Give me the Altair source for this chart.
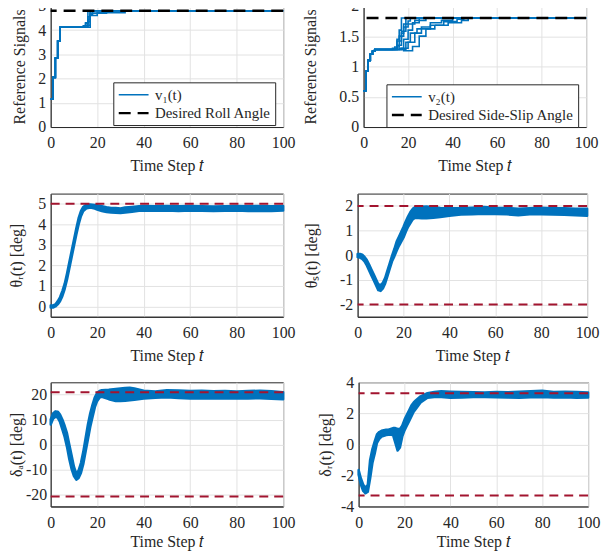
import altair as alt
import pandas as pd

BLUE = "#0072BD"
RED = "#A2142F"
INK = "#262626"
FONT = "Liberation Serif"
XTICKS = [0, 20, 40, 60, 80, 100]
XTITLE = "Time Step 𝑡"

# ---------------- Panel 1: v1(t) runs (step signals) ----------------
P1_LABEL = "v₁(t)"
P1_DES_LABEL = "Desired Roll Angle"
P1_DESIRED = 4.8
P1_RUN_T = [
    [0, 1, 2, 3, 4, 14, 15, 16, 100],
    [0, 1, 2, 3, 4, 15, 16, 17, 100],
    [0, 1, 2, 3, 4, 14, 15, 16, 17, 18, 100],
    [0, 1, 2, 3, 4, 16, 17, 20, 32, 100],
    [0, 1, 2, 3, 4, 16, 17, 24, 26, 100],
    [0, 1, 2, 3, 4, 13, 14, 15, 16, 17, 100],
]
P1_RUN_V = [
    [1.15, 2.05, 2.85, 3.55, 4.12, 4.12, 4.2, 4.8, 4.8],
    [1.15, 2.05, 2.85, 3.55, 4.12, 4.12, 4.35, 4.8, 4.8],
    [1.15, 2.05, 2.85, 3.55, 4.12, 4.12, 4.3, 4.55, 4.65, 4.8, 4.8],
    [1.15, 2.05, 2.85, 3.55, 4.12, 4.12, 4.6, 4.72, 4.8, 4.8],
    [1.15, 2.05, 2.85, 3.55, 4.12, 4.2, 4.7, 4.76, 4.8, 4.8],
    [1.15, 2.05, 2.85, 3.55, 4.12, 4.12, 4.18, 4.28, 4.45, 4.8, 4.8],
]

# ---------------- Panel 2: v2(t) runs ----------------
P2_LABEL = "v₂(t)"
P2_DES_LABEL = "Desired Side-Slip Angle"
P2_DESIRED = 1.8
P2_RUN_T = [
    [0, 1, 2, 3, 4, 5, 14, 15, 16, 17, 100],
    [0, 1, 2, 3, 4, 5, 15, 17, 18, 19, 100],
    [0, 1, 2, 3, 4, 5, 16, 18, 20, 22, 25, 100],
    [0, 1, 2, 3, 4, 5, 17, 20, 23, 26, 30, 35, 40, 100],
    [0, 1, 2, 3, 4, 5, 18, 22, 25, 28, 32, 38, 44, 47, 100],
    [0, 1, 2, 3, 4, 5, 14, 16, 18, 20, 21, 100],
    [0, 1, 2, 3, 4, 5, 19, 21, 24, 30, 36, 42, 45, 100],
    [0, 1, 2, 3, 4, 5, 13, 15, 17, 19, 23, 28, 100],
]
P2_RUN_V = [
    [0.6, 0.93, 1.1, 1.2, 1.25, 1.28, 1.28, 1.45, 1.6, 1.8, 1.8],
    [0.6, 0.93, 1.1, 1.2, 1.25, 1.28, 1.35, 1.55, 1.7, 1.8, 1.8],
    [0.6, 0.93, 1.1, 1.2, 1.25, 1.28, 1.3, 1.45, 1.6, 1.72, 1.8, 1.8],
    [0.6, 0.93, 1.1, 1.2, 1.25, 1.28, 1.3, 1.4, 1.55, 1.65, 1.72, 1.76, 1.8, 1.8],
    [0.6, 0.93, 1.1, 1.2, 1.25, 1.28, 1.26, 1.33, 1.5, 1.62, 1.68, 1.72, 1.76, 1.8, 1.8],
    [0.6, 0.93, 1.1, 1.2, 1.25, 1.28, 1.32, 1.5, 1.65, 1.75, 1.8, 1.8],
    [0.6, 0.93, 1.1, 1.2, 1.25, 1.28, 1.4, 1.55, 1.62, 1.68, 1.74, 1.78, 1.8, 1.8],
    [0.6, 0.93, 1.1, 1.2, 1.25, 1.28, 1.3, 1.42, 1.58, 1.7, 1.76, 1.8, 1.8],
]

# ---------------- Panel 3: theta_r(t) envelope ----------------
P3_T = [0, 1, 2, 3, 4, 5, 6, 7, 8, 9, 10, 11, 12, 13, 14, 15, 16, 17, 18, 19, 20,
        22, 24, 26, 28, 30, 32, 35, 38, 40,
        45, 50, 55, 60, 65, 70, 75, 80, 85, 90, 95, 100]
P3_LO = [-0.05, -0.05, 0.0, 0.1, 0.25, 0.5, 0.85, 1.3, 1.85, 2.4, 2.95, 3.5, 4.0, 4.4, 4.65, 4.75, 4.8, 4.82, 4.8, 4.77, 4.72,
         4.65, 4.6, 4.58, 4.57, 4.55, 4.58, 4.62, 4.66, 4.68,
         4.66, 4.67, 4.65, 4.67, 4.66, 4.65, 4.66, 4.67, 4.65, 4.66, 4.65, 4.67]
P3_HI = [0.05, 0.05, 0.1, 0.25, 0.45, 0.75, 1.1, 1.6, 2.15, 2.7, 3.25, 3.8, 4.3, 4.65, 4.85, 4.93, 4.96, 4.97, 4.96, 4.95, 4.93,
         4.88, 4.83, 4.8, 4.8, 4.78, 4.82, 4.85, 4.88, 4.9,
         4.88, 4.9, 4.88, 4.9, 4.88, 4.87, 4.88, 4.9, 4.88, 4.9, 4.88, 4.9]
P3_LIMITS = [5.0]

# ---------------- Panel 4: theta_s(t) envelope ----------------
P4_T = [0, 1, 2, 3, 4, 5, 6, 7, 8, 9, 10, 11, 12, 13, 14, 15, 16, 17, 18, 19, 20, 21, 22, 23, 24, 25,
        28, 30, 33, 36, 40, 45, 50, 55, 60, 65, 70, 75, 80, 85, 90, 95, 100]
P4_LO = [-0.08, -0.1, -0.15, -0.25, -0.42, -0.62, -0.82, -1.02, -1.22, -1.42, -1.45, -1.35, -1.15, -0.85, -0.55, -0.25,
         -0.05, 0.18, 0.38, 0.55, 0.72, 0.95, 1.15, 1.3, 1.45, 1.52,
         1.5, 1.5, 1.52, 1.55, 1.6, 1.65, 1.66, 1.68, 1.67, 1.66, 1.62, 1.66, 1.66, 1.65, 1.64, 1.62, 1.6]
P4_HI = [0.05, 0.05, 0.02, -0.07, -0.2, -0.38, -0.58, -0.78, -0.98, -1.18, -1.22, -1.12, -0.92, -0.62, -0.32, -0.02,
         0.25, 0.55, 0.75, 0.95, 1.15, 1.38, 1.58, 1.75, 1.88, 1.95,
         1.97, 1.98, 1.95, 1.92, 1.9, 1.9, 1.93, 1.96, 1.93, 1.92, 1.88, 1.9, 1.93, 1.9, 1.9, 1.88, 1.88]
P4_LIMITS = [2.0, -2.0]

# ---------------- Panel 5: delta_a(t) envelope ----------------
P5_T = [0, 1, 2, 3, 4, 5, 6, 7, 8, 9, 10, 11, 12, 13, 14, 15, 16, 17, 18, 19, 20, 21, 22,
        25, 28, 30, 32, 34, 36, 40, 45, 50, 55, 60, 65, 70, 75, 80, 85, 90, 95, 100]
P5_LO = [8, 10.3, 11.1, 10.8, 9, 6, 3, -1, -6, -10, -12.8, -14.2, -13.5, -11.5, -8, -3, 2, 7, 11, 15, 17.5, 18.8, 19.2,
         18.2, 17.5, 17.5, 17.6, 17.8, 18, 18.5, 18.8, 19, 18.7, 18.5, 18.6, 18.5, 18.6, 18.5, 18.5, 18.6, 18.4, 18.2]
P5_HI = [10, 12.5, 13.3, 13.2, 12, 10, 7.5, 4.5, 0, -4.5, -9, -11.8, -10.5, -7.5, -3, 2.5, 8, 12.5, 16, 19, 20.8, 21.5, 21.8,
         22, 22.3, 22.5, 22.7, 22.8, 22.5, 21.6, 21.3, 21.8, 21.7, 21.5, 21.6, 21.4, 21.5, 21.3, 21.5, 21.6, 21.4, 21.0]
P5_LIMITS = [21.0, -21.0]

# ---------------- Panel 6: delta_r(t) envelope ----------------
P6_T = [0, 1, 2, 3, 4, 5, 6, 7, 8, 9, 10, 11, 12, 13, 14, 15, 16, 17, 18, 19, 20, 21, 22, 23, 24, 25,
        27, 30, 33, 36, 40, 45, 50, 55, 60, 65, 70, 75, 80, 85, 90, 95, 100]
P6_LO = [-1.95, -2.6, -3.0, -3.15, -3.05, -2.2, -1.2, -0.6, 0.1, 0.35, 0.5, 0.55, 0.6, 0.62, 0.62, 0.6, 0.1, -0.4, -0.2,
         0.5, 0.9, 1.2, 1.5, 1.8, 2.1, 2.3,
         2.7, 3.0, 3.05, 3.05, 3.0, 3.02, 3.05, 3.05, 3.04, 3.02, 3.0, 3.03, 3.05, 3.02, 3.03, 3.0, 3.02]
P6_HI = [-1.65, -2.2, -2.6, -2.8, -2.6, -1.0, -0.3, 0.2, 0.65, 0.8, 0.88, 0.92, 0.95, 0.95, 1.0, 1.05, 1.05, 1.0, 1.0,
         1.2, 1.6, 1.9, 2.2, 2.5, 2.7, 2.85,
         3.1, 3.3, 3.38, 3.42, 3.4, 3.38, 3.36, 3.35, 3.38, 3.36, 3.4, 3.42, 3.45, 3.38, 3.4, 3.38, 3.35]
P6_LIMITS = [3.3, -3.3]

AXIS_COMMON = dict(labelFont=FONT, labelFontSize=16, labelColor=INK, titleFont=FONT, titleFontSize=16,
                   titleFontWeight="normal", titleColor=INK, labelFlush=False, labelOverlap=False,
                   labelBound=False, labelExpr="'' + datum.value", grid=True, gridColor="#e2e2e2",
                   ticks=False, domain=True, domainColor=INK, domainWidth=1)


def x_enc(tpad=7):
    return alt.X("t:Q", scale=alt.Scale(domain=[0, 100], nice=False, zero=False),
                 axis=alt.Axis(values=XTICKS, title=XTITLE, labelPadding=8, titlePadding=tpad, **AXIS_COMMON))


def y_enc(field, ydom, ticks, title, lpad, tpad):
    return alt.Y(field, scale=alt.Scale(domain=ydom, nice=False, zero=False),
                 axis=alt.Axis(values=ticks, title=title, labelPadding=lpad, titlePadding=tpad, **AXIS_COMMON))


def ref_panel(run_t, run_v, label, des_label, desired, ydom, yticks, w, h, lx, ly, lpad, tpad):
    rows = []
    for i, (ts, vs) in enumerate(zip(run_t, run_v)):
        for t, v in zip(ts, vs):
            rows.append({"t": t, "v": v, "run": i, "series": label})
    df = pd.DataFrame(rows)
    dom = [label, des_label]
    leg = alt.Legend(orient="none", legendX=lx, legendY=ly, title=None,
                     symbolType="M-1,0H3", symbolSize=225, strokeColor=INK,
                     fillColor="white", padding=4, labelFont=FONT, labelFontSize=15,
                     labelColor=INK, rowPadding=1, labelOffset=20, cornerRadius=0)
    color = alt.Color("series:N", scale=alt.Scale(domain=dom, range=[BLUE, "black"]), legend=leg)
    dash = alt.StrokeDash("series:N", scale=alt.Scale(domain=dom, range=[[1, 0], [12, 7]]), legend=leg)
    sw = alt.StrokeWidth("series:N", scale=alt.Scale(domain=dom, range=[1.6, 2.5]), legend=leg)
    y = y_enc("v:Q", ydom, yticks, "Reference Signals", lpad, tpad)
    lines = alt.Chart(df).mark_line(interpolate="step-after").encode(
        x=x_enc(), y=y, color=color, strokeDash=dash, strokeWidth=sw, detail="run:N")
    ddf = pd.DataFrame({"v": [desired], "series": [des_label]})
    rule = alt.Chart(ddf).mark_rule().encode(y=y, color=color, strokeDash=dash, strokeWidth=sw)
    return alt.layer(lines, rule).properties(width=w, height=h)


def band_panel(t, lo, hi, limits, ydom, yticks, title, w, h, lpad, tpad, xtpad=7):
    df = pd.DataFrame({"t": t, "lo": lo, "hi": hi})
    y = y_enc("lo:Q", ydom, yticks, title, lpad, tpad)
    area = alt.Chart(df).mark_area(color=BLUE, stroke=BLUE, strokeWidth=2.5, opacity=1,
                                   strokeJoin="round").encode(x=x_enc(xtpad), y=y, y2="hi:Q")
    ldf = pd.DataFrame({"lo": limits})
    rules = alt.Chart(ldf).mark_rule(color=RED, strokeDash=[9, 6], strokeWidth=2).encode(y=y)
    return alt.layer(area, rules).properties(width=w, height=h)


p1 = ref_panel(P1_RUN_T, P1_RUN_V, P1_LABEL, P1_DES_LABEL, P1_DESIRED, [0, 5], [0, 1, 2, 3, 4, 5],
               234, 122, 63, 77, 5, 10)
p2 = ref_panel(P2_RUN_T, P2_RUN_V, P2_LABEL, P2_DES_LABEL, P2_DESIRED, [0, 2], [0, 0.5, 1, 1.5, 2],
               224, 122, 23, 79, 5, 20)
p3 = band_panel(P3_T, P3_LO, P3_HI, P3_LIMITS, [-0.5, 5.5], [0, 1, 2, 3, 4, 5], "θᵣ(t)  [deg]",
                234, 124, 5, 13)
p4 = band_panel(P4_T, P4_LO, P4_HI, P4_LIMITS, [-2.5, 2.5], [-2, -1, 0, 1, 2], "θₛ(t)  [deg]",
                231, 124, 5, 20)
p5 = band_panel(P5_T, P5_LO, P5_HI, P5_LIMITS, [-25, 25], [-20, -10, 0, 10, 20], "δₐ(t)  [deg]",
                234, 125, 4, 1, xtpad=3)
p6 = band_panel(P6_T, P6_LO, P6_HI, P6_LIMITS, [-4, 4], [-4, -2, 0, 2, 4], "δᵣ(t)  [deg]",
                231, 125, 5, 7, xtpad=3)

indep = dict(color="independent", strokeDash="independent", strokeWidth="independent")

row1 = alt.hconcat(p1, p2, spacing=6).resolve_scale(**indep).resolve_legend(**indep)
row2 = alt.hconcat(p3, p4, spacing=7)
row3 = alt.hconcat(p5, p6, spacing=21)

top = alt.vconcat(row1, row2, spacing=18).resolve_scale(**indep).resolve_legend(**indep)

chart = alt.vconcat(top, row3, spacing=9).resolve_scale(**indep).resolve_legend(**indep).properties(
    padding={"left": 0, "top": -13, "right": 0, "bottom": 0}
).configure_view(stroke=INK, strokeWidth=1).configure_axis(
    titleFontWeight="normal", titleFont=FONT, labelFont=FONT
)

chart.save("out.html", embed_options={"renderer": "svg", "actions": False})
